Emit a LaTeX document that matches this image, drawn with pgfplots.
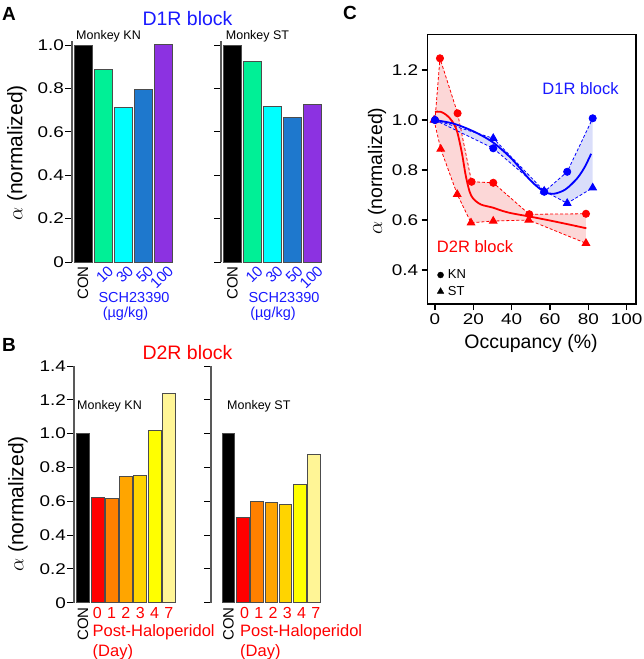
\documentclass[border=0pt]{standalone}
\usepackage{fontspec}
\setmainfont{Liberation Sans}
\newfontfamily\tickfont[FakeStretch=1.22]{Liberation Sans}
\usepackage{pgfplots}
\pgfplotsset{compat=1.18}
\newcommand\fs[1]{\fontsize{#1}{#1}\selectfont}
\definecolor{cGreen}{RGB}{0,240,150}
\definecolor{cCyan}{RGB}{0,255,255}
\definecolor{cBlue}{RGB}{30,120,205}
\definecolor{cPurple}{RGB}{140,50,225}
\definecolor{bRed}{RGB}{255,0,0}
\definecolor{bOrA}{RGB}{255,128,0}
\definecolor{bOrB}{RGB}{255,165,0}
\definecolor{bGold}{RGB}{255,212,0}
\definecolor{bYel}{RGB}{255,255,0}
\definecolor{bLt}{RGB}{255,245,150}
\definecolor{tBlue}{RGB}{25,25,255}
\definecolor{fillRed}{RGB}{252,215,215}
\definecolor{fillBlue}{RGB}{218,222,250}
\pgfplotsset{
  barax/.style={
    anchor=south west, scale only axis,
    axis x line=none, axis y line*=left,
    tick align=outside, major tick length=7pt,
    y axis line style={black!65, line width=2pt},
    ytick style={black, line width=1pt},
    yticklabel style={font=\tickfont\fs{15.5}, inner sep=1pt},
    every axis plot/.append style={ybar, bar shift=0pt, draw=black!70, line width=0.6pt},
  },
}
\begin{document}
\begin{tikzpicture}
\useasboundingbox (0pt,0pt) rectangle (643pt,-659pt);

% ---------------- Panel A, KN
\begin{axis}[barax, at={(72pt,-262pt)}, width=102pt, height=221.3pt,
  xmin=-0.55, xmax=4.55, ymin=0, ymax=1.02,
  ytick={0,0.2,0.4,0.6,0.8,1.0}, yticklabels={0,0.2,0.4,0.6,0.8,1.0},
  every axis plot/.append style={bar width=18pt}]
\addplot[fill=black] coordinates {(0,1.0)};
\addplot[fill=cGreen] coordinates {(1,0.887)};
\addplot[fill=cCyan] coordinates {(2,0.713)};
\addplot[fill=cBlue] coordinates {(3,0.794)};
\addplot[fill=cPurple] coordinates {(4,1.005)};
\end{axis}
% ---------------- Panel A, ST
\begin{axis}[barax, at={(221pt,-262pt)}, width=102pt, height=221.3pt,
  xmin=-0.55, xmax=4.55, ymin=0, ymax=1.02,
  ytick={0,0.2,0.4,0.6,0.8,1.0}, yticklabels={},
  every axis plot/.append style={bar width=18pt}]
\addplot[fill=black] coordinates {(0,1.0)};
\addplot[fill=cGreen] coordinates {(1,0.924)};
\addplot[fill=cCyan] coordinates {(2,0.718)};
\addplot[fill=cBlue] coordinates {(3,0.666)};
\addplot[fill=cPurple] coordinates {(4,0.727)};
\end{axis}

% ---------------- Panel B, KN
\begin{axis}[barax, at={(74pt,-602.7pt)}, width=102pt, height=236.7pt,
  xmin=-0.63, xmax=6.5, ymin=0, ymax=1.4,
  ytick={0,0.2,0.4,0.6,0.8,1.0,1.2,1.4}, yticklabels={0,0.2,0.4,0.6,0.8,1.0,1.2,1.4},
  every axis plot/.append style={bar width=13pt}]
\addplot[fill=black] coordinates {(0,1.0)};
\addplot[fill=bRed] coordinates {(1,0.625)};
\addplot[fill=bOrA] coordinates {(2,0.620)};
\addplot[fill=bOrB] coordinates {(3,0.750)};
\addplot[fill=bGold] coordinates {(4,0.752)};
\addplot[fill=bYel] coordinates {(5,1.022)};
\addplot[fill=bLt] coordinates {(6,1.238)};
\end{axis}
% ---------------- Panel B, ST
\begin{axis}[barax, at={(211pt,-602.7pt)}, width=110pt, height=236.7pt,
  xmin=-1.23, xmax=6.49, ymin=0, ymax=1.4,
  ytick={0,0.2,0.4,0.6,0.8,1.0,1.2,1.4}, yticklabels={},
  every axis plot/.append style={bar width=12.5pt}]
\addplot[fill=black] coordinates {(0,1.0)};
\addplot[fill=bRed] coordinates {(1,0.505)};
\addplot[fill=bOrA] coordinates {(2,0.600)};
\addplot[fill=bOrB] coordinates {(3,0.592)};
\addplot[fill=bGold] coordinates {(4,0.585)};
\addplot[fill=bYel] coordinates {(5,0.700)};
\addplot[fill=bLt] coordinates {(6,0.880)};
\end{axis}

% ---------------- Panel C
\begin{axis}[at={(427.7pt,-304pt)}, anchor=south west, scale only axis,
  width=208.3pt, height=269.7pt,
  xmin=-3.8, xmax=104.9, ymin=0.264, ymax=1.343,
  xtick={0,20,40,60,80,100}, xticklabels={0,20,40,60,80,100},
  ytick={0.4,0.6,0.8,1.0,1.2}, yticklabels={0.4,0.6,0.8,1.0,1.2},
  tick align=outside, xtick pos=bottom, ytick pos=left, major tick length=6pt,
  axis line style={line width=1.2pt}, tick style={black, line width=1.1pt},
  ticklabel style={font=\tickfont\fs{15.5}},
  legend style={at={(0.045,0.135)}, anchor=north west, draw=none, fill=none,
    font=\fs{13}, inner sep=0pt, row sep=2pt, nodes={inner xsep=4pt}},
  legend cell align=left]
% shaded ranges
\addplot[fill=fillRed, draw=none, forget plot] coordinates {
 (0,1.0) (2.6,1.247) (11.8,1.027) (19.1,0.753) (30.4,0.749) (49.2,0.623) (78.8,0.625)
 (78.8,0.507) (48.9,0.600) (30.4,0.596) (18.8,0.589) (11.6,0.703) (3.0,0.884) (0,1.0)} --cycle;
\addplot[fill=fillBlue, draw=none, forget plot] coordinates {
 (0,1.0) (30.4,0.887) (57.0,0.713) (69.0,0.793) (82.3,1.007)
 (82.3,0.729) (69.0,0.667) (57.0,0.716) (30.4,0.927) (0,1.0)} --cycle;
% D2R block, KN and ST
\addplot[red, densely dashed, line width=0.8pt, mark=*, mark size=3.6pt,
  mark options={solid}, forget plot] coordinates {
 (0,1.0) (2.6,1.247) (11.8,1.027) (19.1,0.753) (30.4,0.749) (49.2,0.623) (78.8,0.625)};
\addplot[red, densely dashed, line width=0.8pt, mark=triangle*, mark size=4.4pt,
  mark options={solid}, forget plot] coordinates {
 (-0.5,1.0) (3.0,0.884) (11.6,0.703) (18.8,0.589) (30.4,0.596) (48.9,0.600) (78.8,0.507)};
% D1R block, KN and ST
\addplot[blue, densely dashed, line width=0.8pt, mark=*, mark size=3.6pt,
  mark options={solid}, forget plot] coordinates {
 (0,1.0) (30.4,0.887) (57.0,0.713) (69.0,0.793) (82.3,1.007)};
\addplot[blue, densely dashed, line width=0.8pt, mark=triangle*, mark size=4.4pt,
  mark options={solid}, forget plot] coordinates {
 (0,1.0) (30.4,0.927) (57.0,0.716) (69.0,0.667) (82.3,0.729)};
% fitted curves
\addplot[red, line width=1.8pt, smooth, tension=0.5, forget plot] coordinates {
 (0,1.033) (3,1.033) (6,1.02) (9,0.995) (11.5,0.955) (14,0.87) (16,0.78) (18,0.715)
 (20,0.685) (24,0.662) (30,0.650) (35,0.637) (40,0.627) (50,0.613) (60,0.598) (70,0.582) (79,0.567)};
\addplot[blue, line width=1.8pt, smooth, tension=0.5, forget plot] coordinates {
 (0,1.0) (10,0.985) (20,0.955) (30,0.912) (40,0.845) (50,0.757) (57,0.713) (62,0.705)
 (68,0.722) (74,0.765) (78,0.81) (81.5,0.865)};
\addlegendimage{only marks, mark=*, black, mark size=3pt}
\addlegendentry{KN}
\addlegendimage{only marks, mark=triangle*, black, mark size=3.8pt}
\addlegendentry{ST}
\end{axis}

% ---------------- texts
\node[font=\bfseries\fs{19}] at (9pt,-13.5pt) {A};
\node[font=\bfseries\fs{19}] at (9pt,-345pt) {B};
\node[font=\bfseries\fs{19}] at (350pt,-12.5pt) {C};

\node[tBlue, font=\fs{19.5}] at (187.5pt,-19pt) {D1R block};
\node[red, font=\fs{19.5}] at (187.5pt,-353pt) {D2R block};

\node[anchor=west, inner sep=0pt, font=\fs{12.5}] at (76pt,-36.5pt) {Monkey KN};
\node[anchor=west, inner sep=0pt, font=\fs{12.5}] at (225.7pt,-36.5pt) {Monkey ST};
\node[anchor=west, inner sep=0pt, font=\fs{12.5}] at (77pt,-406pt) {Monkey KN};
\node[anchor=west, inner sep=0pt, font=\fs{12.5}] at (227pt,-406pt) {Monkey ST};

\node[rotate=90, font=\fs{21}] at (17pt,-153pt) {$\alpha$ (normalized)};
\node[rotate=90, font=\fs{21}] at (18pt,-504pt) {$\alpha$ (normalized)};
\node[rotate=90, font=\fs{19.5}] at (377pt,-171pt) {$\alpha$ (normalized)};
\node[font=\fs{19.5}] at (531pt,-343pt) {Occupancy (\%)};

\node[tBlue, font=\fs{16.5}] at (580.5pt,-88.5pt) {D1R block};
\node[red, font=\fs{16.5}] at (475pt,-246.7pt) {D2R block};

% panel A category labels
\node[rotate=90, anchor=east, inner sep=1pt, font=\fs{15}] at (83pt,-265pt) {CON};
\node[rotate=90, anchor=east, inner sep=1pt, font=\fs{15}] at (232.5pt,-265pt) {CON};
\foreach \xx/\lab in {111/10,131/30,151/50,171/100,260.5/10,280.5/30,300.5/50,320.5/100}{
  \node[tBlue, rotate=45, anchor=east, inner sep=0.5pt, font=\fs{15}] at (\xx pt,-268pt) {\lab};
}
\node[tBlue, font=\fs{14.5}] at (134pt,-297.7pt) {SCH23390};
\node[tBlue, font=\fs{14.5}] at (125.5pt,-314pt) {(µg/kg)};
\node[tBlue, font=\fs{14.5}] at (284pt,-297.7pt) {SCH23390};
\node[tBlue, font=\fs{14.5}] at (273pt,-314pt) {(µg/kg)};

% panel B category labels
\node[rotate=90, anchor=east, inner sep=1pt, font=\fs{15}] at (83pt,-606pt) {CON};
\node[rotate=90, anchor=east, inner sep=1pt, font=\fs{15}] at (228.5pt,-606pt) {CON};
\foreach \xx/\lab in {97.3/0,111.6/1,125.9/2,140.2/3,154.5/4,168.8/7,
                      244.5/0,258.8/1,273/2,287.3/3,301.5/4,315.8/7}{
  \node[red, font=\fs{16}] at (\xx pt,-613pt) {\lab};
}
\node[red, anchor=west, inner sep=0pt, font=\fs{16.5}] at (92.5pt,-632pt) {Post-Haloperidol};
\node[red, anchor=west, inner sep=0pt, font=\fs{16.5}] at (92.5pt,-652pt) {(Day)};
\node[red, anchor=west, inner sep=0pt, font=\fs{16.5}] at (240pt,-632pt) {Post-Haloperidol};
\node[red, anchor=west, inner sep=0pt, font=\fs{16.5}] at (240pt,-652pt) {(Day)};
\end{tikzpicture}
\end{document}
